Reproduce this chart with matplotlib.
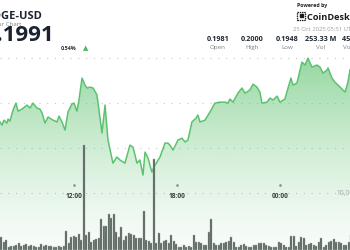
import matplotlib
matplotlib.use("Agg")  # no display
import matplotlib.pyplot as plt
import numpy as np
from matplotlib.colors import to_rgb
from matplotlib.patches import Rectangle

# price line: hours since midnight of day 1 (24+ = next day), DOGE price in USD
hours = [7.69, 7.81, 7.92, 8.10, 8.16, 8.27, 8.45, 8.62, 8.74, 8.97,
         9.26, 9.44, 9.61, 9.84, 10.02, 10.14, 10.31, 10.49, 10.78, 11.01,
         11.13, 11.30, 11.48, 11.65, 11.88, 12.00, 12.17, 12.29, 12.47, 12.64,
         12.76, 12.93, 13.11, 13.34, 13.63, 13.81, 13.98, 14.27, 14.50, 14.68,
         14.97, 15.26, 15.44, 15.67, 15.84, 16.02, 16.14, 16.31, 16.54, 16.66,
         17.01, 17.30, 17.48, 17.59, 17.77, 18.06, 18.29, 18.47, 18.64, 18.87,
         19.11, 19.22, 19.34, 19.63, 19.92, 20.21, 20.50, 20.80, 20.97, 21.09,
         21.26, 21.55, 21.79, 21.96, 22.25, 22.43, 22.66, 22.83, 22.95, 23.24,
         23.42, 23.59, 23.83, 24.00, 24.29, 24.47, 24.64, 24.76, 24.99, 25.28,
         25.46, 25.63, 25.86, 26.16, 26.33, 26.51, 26.74, 26.80, 27.03, 27.20,
         27.50, 27.79, 27.96, 28.08]
prices = [0.19716, 0.19702, 0.19724, 0.19711, 0.19729, 0.19720, 0.19769, 0.19800, 0.19764, 0.19773,
          0.19791, 0.19778, 0.19800, 0.19778, 0.19773, 0.19756, 0.19711, 0.19738, 0.19724, 0.19716,
          0.19742, 0.19716, 0.19680, 0.19760, 0.19796, 0.19800, 0.19764, 0.19813, 0.19911, 0.19880,
          0.19867, 0.19871, 0.19867, 0.19836, 0.19667, 0.19791, 0.19636, 0.19533, 0.19560, 0.19547,
          0.19533, 0.19613, 0.19604, 0.19533, 0.19547, 0.19480, 0.19582, 0.19556, 0.19493, 0.19516,
          0.19560, 0.19622, 0.19622, 0.19613, 0.19591, 0.19636, 0.19644, 0.19627, 0.19636, 0.19716,
          0.19733, 0.19747, 0.19716, 0.19724, 0.19760, 0.19800, 0.19804, 0.19804, 0.19800, 0.19818,
          0.19804, 0.19844, 0.19867, 0.19844, 0.19858, 0.19884, 0.19871, 0.19849, 0.19800, 0.19804,
          0.19822, 0.19813, 0.19831, 0.19804, 0.19818, 0.19867, 0.19911, 0.19880, 0.19889, 0.19982,
          0.19969, 0.20000, 0.19960, 0.19969, 0.19960, 0.19933, 0.19947, 0.19956, 0.19911, 0.19893,
          0.19871, 0.19849, 0.19893, 0.19947]

# volume per bar (relative units)
volumes = [13, 8, 10, 3, 4, 4, 5, 7, 4, 5, 6, 4, 5, 4, 3, 3, 6, 4, 5, 4,
           4, 3, 3, 4, 3, 4, 19, 7, 13, 14, 13, 16, 10, 105, 15, 18, 8, 10, 11, 12,
           31, 24, 24, 36, 32, 36, 18, 13, 23, 10, 14, 17, 16, 15, 12, 12, 12, 39, 10, 9,
           7, 91, 7, 17, 7, 9, 10, 7, 15, 9,
           6, 3, 3, 5, 3, 4, 3, 15, 8, 8, 7, 5, 5, 18, 31, 7, 5, 5, 7, 7,
           8, 9, 13, 8, 3, 3, 5, 6, 4, 3, 3, 5, 5, 7, 7, 7, 5, 4, 3, 3,
           3, 8, 7, 5, 3, 3, 14, 14, 4, 8, 13, 12, 5, 6, 7, 5, 4, 8, 12, 3,
           5, 8, 9, 11, 8, 8, 7, 5, 5, 8, 15]

grid_prices = [0.2000, 0.1980, 0.1960, 0.1940]
tick_hours = [12, 18, 24]
tick_labels = ["12:00", "18:00", "00:00"]

stat_values = ["0.1981", "0.2000", "0.1948", "253.33 M", "45.06 M"]
stat_names = ["Open", "High", "Low", "Vol", "Vol (USD)"]

X0, X1 = 7.69, 28.08
Y0, Y1 = 0.19147, 0.20258
BAR_STEP = 0.1456
W, H = 350, 250
GREEN = "#5dc26f"

plt.rcParams["font.family"] = ["Open Sans", "DejaVu Sans"]


def px(x, y):
    """pixel position -> figure fraction"""
    return x / W, 1 - y / H


fig = plt.figure(figsize=(3.5, 2.5), dpi=100)
ax = fig.add_axes([0, 0, 1, 1])
ax.set_xlim(X0, X1)
ax.set_ylim(Y0, Y1)
ax.axis("off")

for g in grid_prices:
    ax.axhline(g, color="#c4cac6", lw=0.8, ls=(0, (1, 6)), zorder=1)

# gradient fill under the line
fill = ax.fill_between(hours, prices, Y0, color="none", lw=0)
grad = np.zeros((256, 1, 4))
grad[..., :3] = to_rgb(GREEN)
grad[:, 0, 3] = 0.05 + 0.62 * np.linspace(1, 0, 256) ** 1.4
img = ax.imshow(grad, extent=[X0, X1, Y0, 0.2002], origin="upper",
                aspect="auto", zorder=2, interpolation="bilinear")
img.set_clip_path(fill.get_paths()[0], transform=ax.transData)
ax.set_xlim(X0, X1)
ax.set_ylim(Y0, Y1)

ax.plot(hours, prices, color=GREEN, lw=1.1, zorder=3)

# time ticks
xt = ax.get_xaxis_transform()
ax.plot(tick_hours, [1 - 185 / H] * 3, "o", ms=0.9, color="#8a8f8c",
        transform=xt, zorder=4)
for h, lab in zip(tick_hours, tick_labels):
    ax.text(h, 1 - 198 / H, lab, transform=xt, ha="center", va="baseline",
            fontsize=4.8, weight="bold", color="#3a3f3c", zorder=4)
fig.text(*px(336, 194.5), "10,000", ha="left", va="baseline", fontsize=4.8,
         color="#a3a8a5")

# volume bars
axv = ax.twinx()
axv.set_ylim(0, H)
axv.axis("off")
bar_x = X0 + BAR_STEP * (np.arange(len(volumes)) + 0.5)
axv.bar(bar_x, volumes, width=BAR_STEP * 0.82, color="#56605a",
        edgecolor="#a7b0aa", lw=0.3, zorder=5)
axv.set_xlim(X0, X1)

# header, left
fig.text(*px(42, 19), "DOGE-USD", ha="right", va="baseline", fontsize=8,
         weight="bold", color="#1d2430")
fig.text(*px(21, 26), "24 Hour Chart", ha="right", va="baseline", fontsize=4.4,
         color="#7a808a")
fig.text(*px(54, 41), "$0.1991", ha="right", va="baseline", fontsize=16,
         weight="bold", color="#1a2230")
fig.text(*px(61, 49.5), "0.54%", ha="left", va="baseline", fontsize=3.9,
         weight="bold", color="#2a313b")
fig.text(*px(86, 48.5), "\u25b2", ha="center", va="center", fontsize=5,
         color="#4cb95e", family="DejaVu Sans")

# header, right
fig.text(*px(297, 6.5), "Powered by", ha="left", va="baseline", fontsize=3.8,
         weight="bold", color="#222222")
fig.add_artist(Rectangle(px(297, 20), 8 / W, 8 / H, fill=False, ec="#1b1b1b",
                         lw=0.9, ls=(0, (1.2, 0.6)), transform=fig.transFigure))
fig.add_artist(Rectangle(px(300, 17), 3 / W, 3 / H, color="#1b1b1b",
                         transform=fig.transFigure))
fig.text(*px(307, 20), "CoinDesk Data", ha="left", va="baseline", fontsize=6.6,
         weight="bold", color="#1b1b1b")
fig.text(*px(293, 31), "25 Oct 2025 05:51 UTC", ha="left", va="baseline",
         fontsize=4.2, color="#9aa0a6")

stat_x = [218, 252, 287, 321, 356]
for x, v, n in zip(stat_x, stat_values, stat_names):
    fig.text(*px(x, 41), v, ha="center", va="baseline", fontsize=5.2,
             weight="bold", color="#1f2630")
    fig.text(*px(x, 49), n, ha="center", va="baseline", fontsize=4.5,
             color="#7d838b")

fig.savefig("out.png", dpi=100)
plt.close(fig)
